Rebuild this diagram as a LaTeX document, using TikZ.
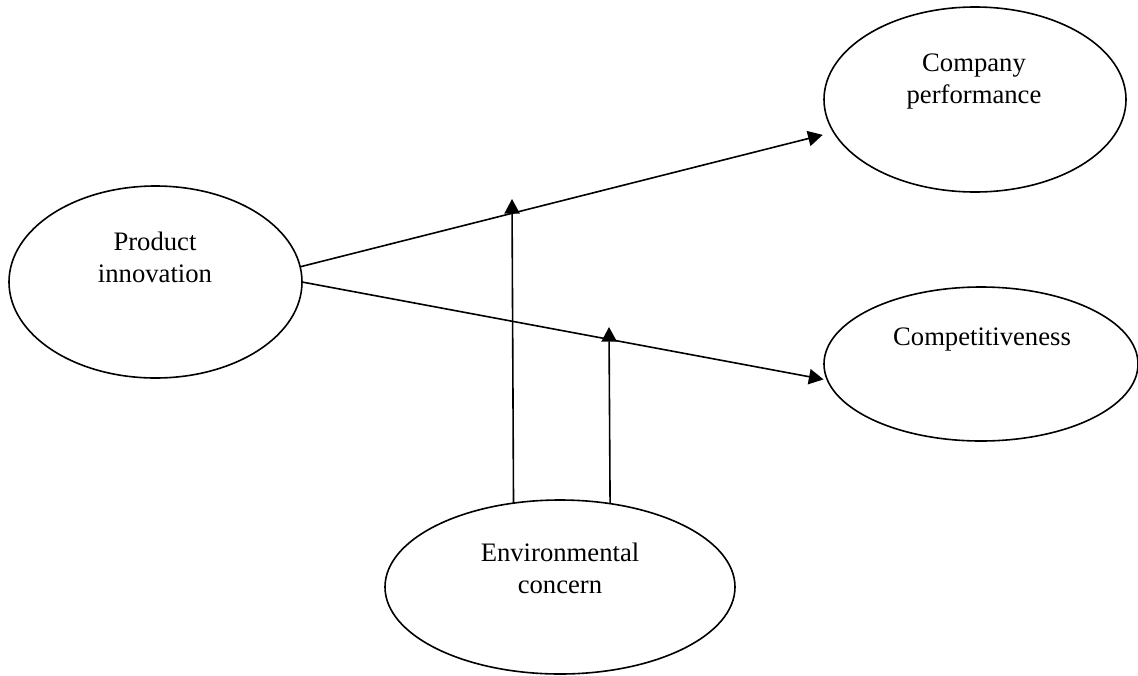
\documentclass[tikz,border=0pt]{standalone}
\usepackage{fontspec}
\setmainfont{Liberation Serif}
\usetikzlibrary{shapes.geometric,arrows.meta}
\begin{document}
\begin{tikzpicture}[x=0.75pt,y=-0.75pt,
  oval/.style={draw,ellipse,line width=1.2pt,inner sep=0pt,outer sep=0pt},
  lbl/.style={align=center,anchor=base,inner sep=0pt,font=\fontsize{20}{23.6}\selectfont},
  link/.style={line width=1.2pt,-{Triangle[length=11pt,width=11.5pt]}}]
\useasboundingbox (0,0) rectangle (1138,675);
\node[oval,minimum width=219.75pt,minimum height=144pt] (pi) at (155.5,282) {};
\node[oval,minimum width=226.5pt,minimum height=138.75pt] (cp) at (975,99.5) {};
\node[oval,minimum width=235.5pt,minimum height=115.5pt] (ct) at (981,364) {};
\node[oval,minimum width=262.5pt,minimum height=130.5pt] (ec) at (560,587) {};
\node[lbl] (pit) at (155,282) {Product\\innovation};
\node[lbl] (cpt) at (974,103) {Company\\performance};
\node[lbl] (ctt) at (982,345) {Competitiveness};
\node[lbl] (ect) at (560,593) {Environmental\\concern};
\coordinate (m1) at (512,199);
\coordinate (m2) at (609,327);
\draw[link,shorten >=8.5pt] (pi.6.6) -- (cp.193.9);
\draw[link,shorten >=3pt] (pi.0) -- (ct.186.2);
\draw[link] (ec.119.7) -- (m1);
\draw[link] (ec.59.7) -- (m2);
\end{tikzpicture}
\end{document}
